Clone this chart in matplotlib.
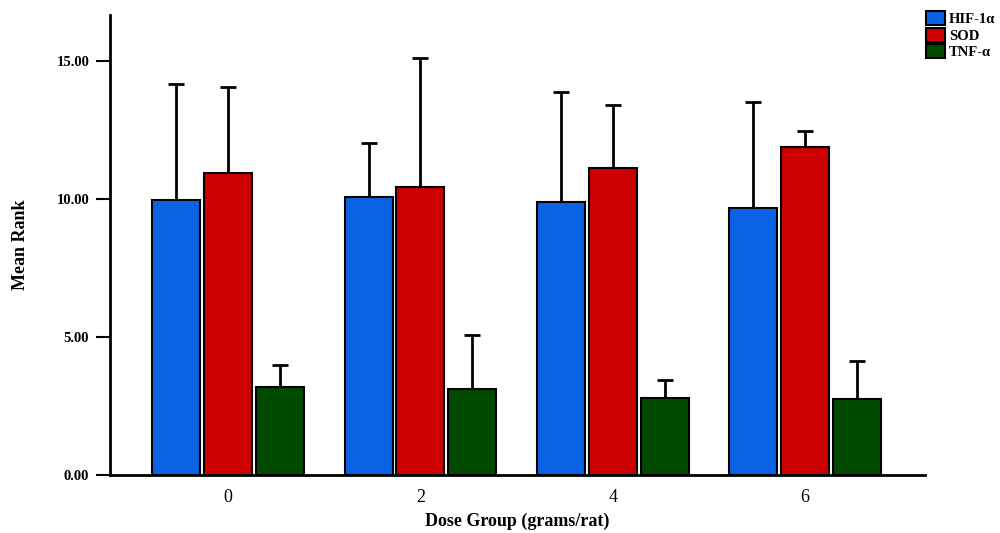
import numpy as np
import matplotlib.pyplot as plt
from matplotlib.patches import Patch

groups = ["0", "2", "4", "6"]
series = ["HIF-1α", "SOD", "TNF-α"]
means = {
    "HIF-1α": [9.96, 10.07, 9.89, 9.67],
    "SOD": [10.94, 10.43, 11.12, 11.88],
    "TNF-α": [3.19, 3.12, 2.79, 2.75],
}
err_top = {
    "HIF-1α": [14.17, 12.03, 13.88, 13.51],
    "SOD": [14.07, 15.10, 13.41, 12.46],
    "TNF-α": [3.99, 5.07, 3.44, 4.11],
}
colors = ["#0a62e4", "#cc0000", "#004a00"]

plt.rcParams['font.family'] = ['Liberation Serif', 'DejaVu Serif']
plt.rcParams['font.weight'] = 'bold'

fig = plt.figure(figsize=(10, 5.33), dpi=100)
ax = fig.add_axes([0.11, 0.109, 0.815, 0.863])

x = np.arange(len(groups))
width = 0.25
step = 0.27
for i, s in enumerate(series):
    pos = x + (i - 1) * step
    vals = np.array(means[s])
    up = np.array(err_top[s]) - vals
    ax.bar(pos, vals, width, color=colors[i], edgecolor="black", linewidth=1.5,
           zorder=2)
    ax.errorbar(pos, vals, yerr=[np.zeros_like(up), up], fmt="none",
                ecolor="black", elinewidth=2, capsize=6, capthick=2, zorder=1)

ax.set_xlim(-0.615, 3.625)
ax.set_ylim(0, 16.67)
ax.set_xticks(x)
ax.set_xticklabels(groups, fontsize=13, fontweight='normal')
ax.tick_params(axis='x', length=0, pad=10)
ax.set_yticks([0, 5, 10, 15])
ax.set_yticklabels(["0.00", "5.00", "10.00", "15.00"], fontsize=10.5)
ax.tick_params(axis='y', length=10, width=1.5, pad=5)
ax.spines['top'].set_visible(False)
ax.spines['right'].set_visible(False)
ax.spines['left'].set_linewidth(2)
ax.spines['bottom'].set_linewidth(2)

fig.text(0.517, 0.022, "Dose Group (grams/rat)", ha="center", va="center",
         fontsize=13, fontweight='bold')
fig.text(0.021, 0.54, "Mean Rank", ha="center", va="center", rotation=90,
         fontsize=13, fontweight='bold')

handles = [Patch(facecolor=c, edgecolor="black", linewidth=1.5) for c in colors]
fig.legend(handles, series, loc="upper left", bbox_to_anchor=(0.92, 0.99),
           frameon=False, fontsize=10.5, handlelength=1.3, handleheight=1.1,
           handletextpad=0.3, labelspacing=0.1, borderaxespad=0)

fig.savefig("out.png", dpi=100)
